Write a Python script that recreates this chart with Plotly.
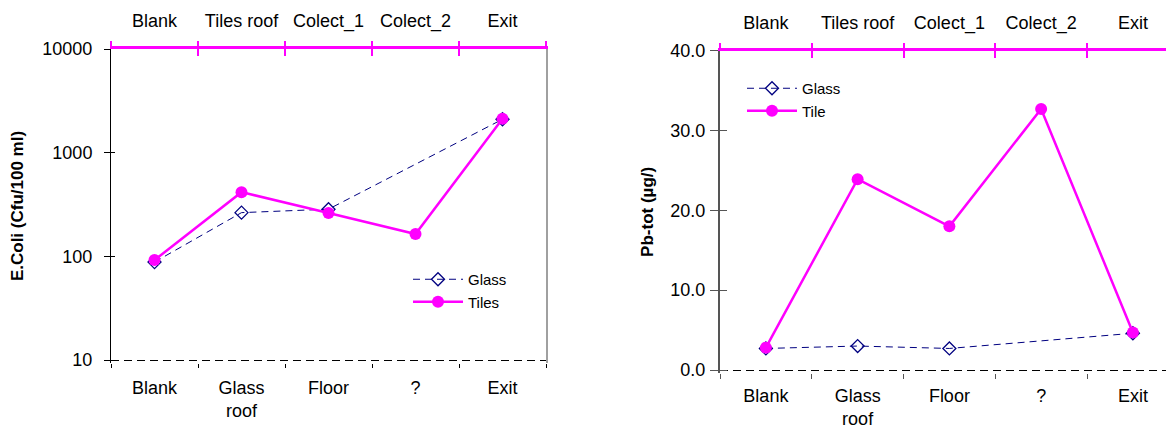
import plotly.graph_objects as go

# ---------------- data ----------------
bottom_labels = ["Blank", "Glass<br>roof", "Floor", "?", "Exit"]
top_labels = ["Blank", "Tiles roof", "Colect_1", "Colect_2", "Exit"]

ecoli_glass = [88, 264, 285, None, 2100]
ecoli_tiles = [92, 416, 262, 164, 2120]

pb_glass = [2.7, 3.0, 2.7, None, 4.6]
pb_tile = [2.8, 23.9, 18.0, 32.7, 4.7]

ecoli_ticks = [10, 100, 1000, 10000]
ecoli_ticktext = ["10", "100", "1000", "10000"]
pb_ticks = [0, 10, 20, 30, 40]

# ---------------- style ----------------
SW, SH = 1174, 427          # browser window
OFF = 8                     # default page margin of the html body
W, H = SW - OFF, SH - OFF   # figure size so that it fills the window exactly
FONT = "Arial, Liberation Sans, Helvetica, sans-serif"
MAG = "#FF00FF"
NAVY = "#000080"

n = len(bottom_labels)
centers = list(range(n))
bounds = [i - 0.5 for i in range(n + 1)]


def px_x(a, b):
    return [(a - OFF) / W, min(1.0, (b - OFF) / W)]


def px_y(top, bottom):
    return [1 - (bottom - OFF) / H, 1 - (top - OFF) / H]


def pxx(a):
    return (a - OFF) / W


def pxy(y):
    return 1 - (y - OFF) / H


fig = go.Figure()

glass_line = dict(color=NAVY, width=1, dash="7px,5px")
glass_marker = dict(symbol="diamond-open", size=10, color=NAVY, line=dict(width=1.3, color=NAVY))
tile_line = dict(color=MAG, width=2.5)
tile_marker = dict(symbol="circle", size=12, color=MAG)

# left chart
fig.add_trace(go.Scatter(x=bottom_labels, y=ecoli_glass, name="Glass", mode="lines+markers",
                         line=glass_line, marker=glass_marker, connectgaps=True,
                         xaxis="x", yaxis="y", legend="legend"))
fig.add_trace(go.Scatter(x=bottom_labels, y=ecoli_tiles, name="Tiles", mode="lines+markers",
                         line=tile_line, marker=tile_marker, connectgaps=True,
                         xaxis="x", yaxis="y", legend="legend"))
# right chart
fig.add_trace(go.Scatter(x=bottom_labels, y=pb_glass, name="Glass", mode="lines+markers",
                         line=glass_line, marker=glass_marker, connectgaps=True,
                         xaxis="x5", yaxis="y4", legend="legend2"))
fig.add_trace(go.Scatter(x=bottom_labels, y=pb_tile, name="Tile", mode="lines+markers",
                         line=tile_line, marker=tile_marker, connectgaps=True,
                         xaxis="x5", yaxis="y4", legend="legend2"))

# empty traces so that the decorative overlay axes get drawn
for xa, ya in [("x2", "y"), ("x3", "y"), ("x4", "y"), ("x", "y2"), ("x", "y3"),
               ("x6", "y4"), ("x7", "y4"), ("x8", "y4"), ("x5", "y5"), ("x5", "y6")]:
    fig.add_trace(go.Scatter(x=[], y=[], xaxis=xa, yaxis=ya, showlegend=False,
                             hoverinfo="skip", mode="markers"))

tickfont = dict(family=FONT, size=18, color="black")
common = dict(automargin=False, showgrid=False, zeroline=False)


def top_axes(over, anchor, xrange):
    lab = dict(overlaying=over, anchor=anchor, side="top", type="linear", range=xrange,
               tickmode="array", tickvals=centers, ticktext=top_labels, ticks="",
               showline=True, linecolor=MAG, linewidth=3, tickfont=tickfont,
               ticklabelstandoff=12, **common)
    out = dict(overlaying=over, anchor=anchor, side="top", type="linear", range=xrange,
               tickmode="array", tickvals=bounds, ticks="outside", ticklen=7, tickwidth=2,
               tickcolor=MAG, showticklabels=False, showline=False, **common)
    inn = dict(out, ticks="inside")
    return lab, out, inn


layout_axes = {}

# ---- left subplot ----
# the lowest value (10) sits at y=360; the plot area reaches 3 px further down so the
# dashed baseline grid line is not clipped at the edge
L_DEC = (360 - 49) / 3.0            # pixels per decade
L_EXTRA = 3
LX = px_x(111, 546)
LY = px_y(49, 360 + L_EXTRA)
LXR = [-0.5, 4.5]
LYR = [1 - L_EXTRA / L_DEC, 4]
layout_axes["xaxis"] = dict(domain=LX, anchor="y", type="category",
                            categoryorder="array", categoryarray=bottom_labels,
                            range=LXR, tickson="boundaries", ticks="outside", ticklen=4,
                            tickcolor="black", tickwidth=1, showline=False,
                            tickfont=tickfont, ticklabelstandoff=12, **common)
(layout_axes["xaxis2"], layout_axes["xaxis3"], layout_axes["xaxis4"]) = top_axes("x", "y", LXR)
layout_axes["yaxis"] = dict(domain=LY, anchor="x", type="log", range=LYR, tickmode="array",
                            tickvals=ecoli_ticks, ticktext=ecoli_ticktext, ticks="outside",
                            ticklen=6, tickcolor="black", showline=True, linecolor="black",
                            linewidth=1, tickfont=tickfont, ticklabelstandoff=8,
                            title=dict(text="<b>E.Coli (Cfu/100 ml)</b>",
                                       font=dict(family=FONT, size=17, color="black"),
                                       standoff=16), **common)
layout_axes["yaxis2"] = dict(overlaying="y", anchor="x", side="left", type="log", range=LYR,
                             tickmode="array", tickvals=ecoli_ticks, ticks="inside", ticklen=4,
                             tickcolor="black", showticklabels=False, showline=False, **common)
layout_axes["yaxis3"] = dict(overlaying="y", anchor="x", side="right", type="log", range=LYR,
                             tickmode="array", tickvals=[ecoli_ticks[0]], ticks="",
                             showticklabels=False, showline=True, linecolor="#A0A0A0",
                             linewidth=2, showgrid=True, gridcolor="black", gridwidth=1.3,
                             griddash="8px,5px", zeroline=False, automargin=False)

# ---- right subplot ----
R_UNIT = (370 - 50.7) / 40.0         # pixels per unit
R_EXTRA = 3
RX = px_x(720, SW)
RY = px_y(50.7, 370 + R_EXTRA)
RXR = [-0.5, -0.5 + (SW - 720) / 91.75]
RYR = [-R_EXTRA / R_UNIT, 40]
RCOL = "#555555"
layout_axes["xaxis5"] = dict(domain=RX, anchor="y4", type="category",
                             categoryorder="array", categoryarray=bottom_labels,
                             range=RXR, tickson="boundaries", ticks="outside", ticklen=5,
                             tickcolor=RCOL, tickwidth=1, showline=False,
                             tickfont=tickfont, ticklabelstandoff=10, **common)
(layout_axes["xaxis6"], layout_axes["xaxis7"], layout_axes["xaxis8"]) = top_axes("x5", "y4", RXR)
layout_axes["yaxis4"] = dict(domain=RY, anchor="x5", type="linear", range=RYR, tickmode="array",
                             tickvals=pb_ticks, tickformat=".1f", ticks="outside",
                             ticklen=8, tickcolor=RCOL, showline=True, linecolor=RCOL,
                             linewidth=2, tickfont=tickfont, ticklabelstandoff=1,
                             title=dict(text="<b>Pb-tot (µg/)</b>",
                                        font=dict(family=FONT, size=17, color="black"),
                                        standoff=12), **common)
layout_axes["yaxis5"] = dict(overlaying="y4", anchor="x5", side="left", type="linear", range=RYR,
                             tickmode="array", tickvals=pb_ticks, ticks="inside", ticklen=7,
                             tickcolor=RCOL, showticklabels=False, showline=False, **common)
layout_axes["yaxis6"] = dict(overlaying="y4", anchor="x5", side="right", type="linear", range=RYR,
                             tickmode="array", tickvals=[pb_ticks[0]], ticks="",
                             showticklabels=False, showline=False, showgrid=True,
                             gridcolor="black", gridwidth=1.3, griddash="8px,5px",
                             zeroline=False, automargin=False)

legend_font = dict(family=FONT, size=15, color="black")
fig.update_layout(
    width=W, height=H,
    margin=dict(l=0, r=0, t=0, b=0, autoexpand=False),
    paper_bgcolor="white", plot_bgcolor="white",
    font=dict(family=FONT, color="black"),
    showlegend=True,
    legend=dict(x=pxx(408), y=pxy(263), xanchor="left", yanchor="top",
                bgcolor="rgba(0,0,0,0)", font=legend_font, itemwidth=50,
                traceorder="normal", tracegroupgap=0),
    legend2=dict(x=pxx(742), y=pxy(72), xanchor="left", yanchor="top",
                 bgcolor="rgba(0,0,0,0)", font=legend_font, itemwidth=50,
                 traceorder="normal", tracegroupgap=0),
    **layout_axes,
)

fig.write_html("out.html")
